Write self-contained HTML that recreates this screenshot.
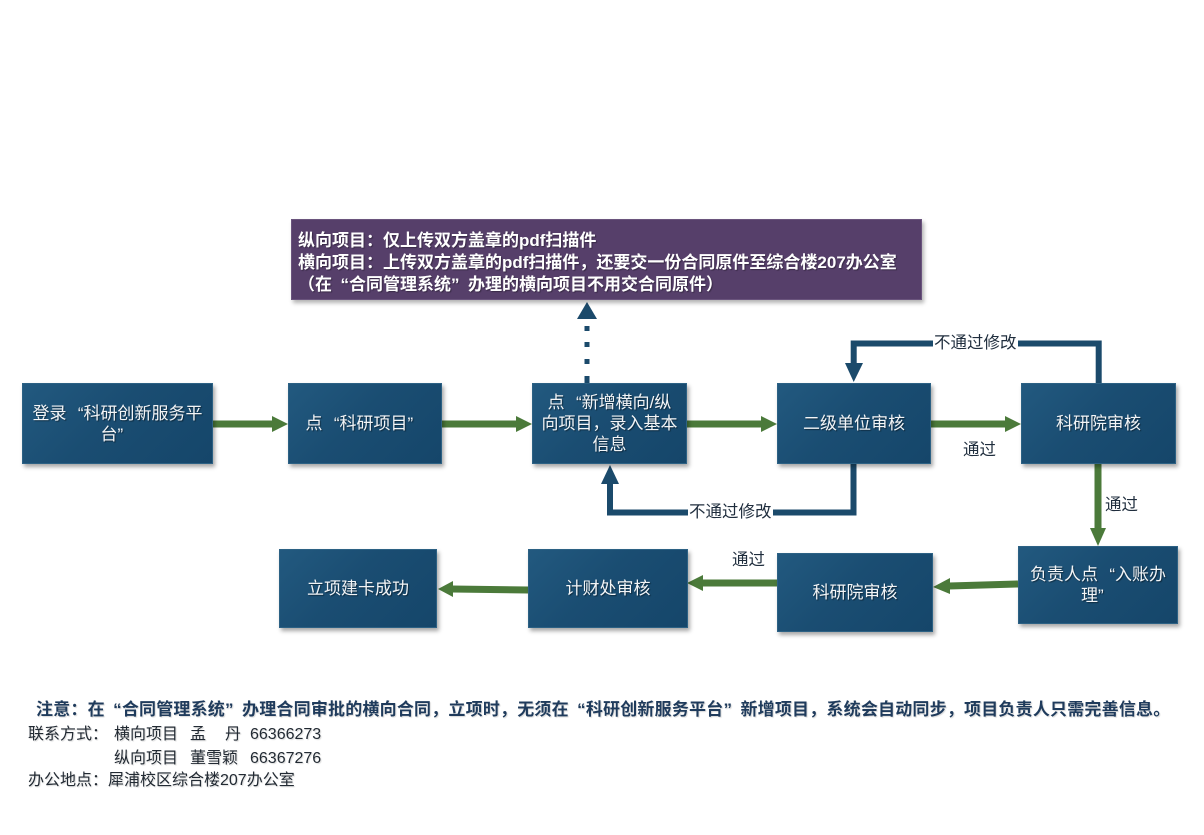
<!DOCTYPE html>
<html><head><meta charset="utf-8">
<style>
html,body{margin:0;padding:0;background:#fff;}
body{width:1204px;height:835px;position:relative;overflow:hidden;font-family:"Liberation Sans","Noto Sans CJK SC",sans-serif;}
.box{position:absolute;box-sizing:border-box;background:linear-gradient(135deg,#22597f 0%,#1a4d72 45%,#15466a 100%);border:1px solid #2c6184;box-shadow:2px 3px 4px rgba(0,0,0,0.35);display:flex;align-items:center;justify-content:center;text-align:center;color:#f3f5f7;font-size:17px;line-height:21px;text-shadow:1px 1px 1px rgba(0,0,0,0.45);}
.purple{position:absolute;left:291px;top:219px;width:631px;height:81px;box-sizing:border-box;background:#563f6a;border:1px solid #6a547d;box-shadow:2px 3px 4px rgba(0,0,0,0.3);color:#fff;font-weight:bold;font-size:17px;line-height:22px;padding:10px 0 0 6px;white-space:nowrap;text-shadow:1px 1px 1px rgba(0,0,0,0.35);}
.lbl{position:absolute;font-size:16.5px;color:#1f2d3d;line-height:20px;white-space:nowrap;}
.lblbg{background:#fff;padding:0 1px;}
.t{position:absolute;white-space:nowrap;font-size:16px;line-height:20px;color:#222a33;text-shadow:1px 1px 1px rgba(0,0,0,0.15);}
.ql{display:inline-block;width:1em;text-align:right;}
.qr{display:inline-block;width:1em;text-align:left;}
svg{position:absolute;left:0;top:0;}
</style></head>
<body>
<svg width="1204" height="835" viewBox="0 0 1204 835">
  <g fill="#4b7a3a" stroke="none">
    <rect x="213" y="420.5" width="60" height="7"/>
    <polygon points="272,416 272,432 288,424"/>
    <rect x="442" y="420.5" width="75" height="7"/>
    <polygon points="516,416 516,432 532,424"/>
    <rect x="687" y="420.5" width="75" height="7"/>
    <polygon points="761,416 761,432 777,424"/>
    <rect x="931" y="420.5" width="75" height="7"/>
    <polygon points="1005,416 1005,432 1021,424"/>
    <rect x="1094.5" y="464" width="7" height="65"/>
    <polygon points="1090,528 1106,528 1098,546"/>
  </g>
  <g stroke="#4b7a3a" stroke-width="7" fill="none">
    <line x1="1018" y1="584" x2="949" y2="586"/>
    <line x1="777" y1="583" x2="702" y2="583"/>
    <line x1="528" y1="590" x2="452" y2="589"/>
  </g>
  <g fill="#4b7a3a">
    <polygon points="950,578 950,594 933,587"/>
    <polygon points="703,575 703,591 687,583"/>
    <polygon points="453,581 453,597 438,589"/>
  </g>
  <g stroke="#1b4a6b" stroke-width="6" fill="none" stroke-linejoin="miter">
    <polyline points="853.5,464 853.5,512.5 610,512.5 610,484"/>
    <polyline points="1098.7,383 1098.7,343.5 853.7,343.5 853.7,364"/>
  </g>
  <g fill="#1b4a6b">
    <polygon points="601,484 619,484 610,465"/>
    <polygon points="845,363 863,363 853.7,382"/>
    <rect x="584.5" y="326" width="5" height="5"/>
    <rect x="584.5" y="342" width="5" height="5"/>
    <rect x="584.5" y="359" width="5" height="5"/>
    <rect x="584.5" y="376" width="5" height="7"/>
    <polygon points="577,319 597,319 587,302"/>
  </g>
</svg>

<div class="purple">纵向项目：仅上传双方盖章的pdf扫描件<br>横向项目：上传双方盖章的pdf扫描件，还要交一份合同原件至综合楼207办公室<br>（在<span class="ql">“</span>合同管理系统<span class="qr">”</span>办理的横向项目不用交合同原件）</div>

<div class="box" style="left:22px;top:383px;width:191px;height:81px;"><div>登录<span class="ql">“</span>科研创新服务平<br>台<span class="qr">”</span></div></div>
<div class="box" style="left:288px;top:383px;width:154px;height:81px;"><div>点<span class="ql">“</span>科研项目<span class="qr">”</span></div></div>
<div class="box" style="left:532px;top:383px;width:155px;height:81px;"><div>点<span class="ql">“</span>新增横向/纵<br>向项目，录入基本<br>信息</div></div>
<div class="box" style="left:777px;top:383px;width:154px;height:81px;">二级单位审核</div>
<div class="box" style="left:1021px;top:383px;width:155px;height:81px;">科研院审核</div>

<div class="box" style="left:1018px;top:546px;width:160px;height:78px;"><div>负责人点<span class="ql">“</span>入账办<br>理<span class="qr">”</span></div></div>
<div class="box" style="left:777px;top:553px;width:156px;height:79px;">科研院审核</div>
<div class="box" style="left:528px;top:549px;width:160px;height:79px;">计财处审核</div>
<div class="box" style="left:279px;top:549px;width:158px;height:79px;">立项建卡成功</div>

<div class="lbl" style="left:933px;top:333px;"><span class="lblbg">不通过修改</span></div>
<div class="lbl" style="left:688px;top:502px;"><span class="lblbg">不通过修改</span></div>
<div class="lbl" style="left:963px;top:440px;">通过</div>
<div class="lbl" style="left:1105px;top:495px;">通过</div>
<div class="lbl" style="left:732px;top:550px;">通过</div>

<div class="t" style="left:36px;top:700px;font-size:17px;font-weight:bold;color:#1f3b5c;letter-spacing:0.2px;">注意：在<span class="ql">“</span>合同管理系统<span class="qr">”</span>办理合同审批的横向合同，立项时，无须在<span class="ql">“</span>科研创新服务平台<span class="qr">”</span>新增项目，系统会自动同步，项目负责人只需完善信息。</div>
<div class="t" style="left:28px;top:725px;">联系方式：</div>
<div class="t" style="left:114px;top:725px;">横向项目</div>
<div class="t" style="left:190px;top:725px;">孟</div>
<div class="t" style="left:225px;top:725px;">丹</div>
<div class="t" style="left:250px;top:725px;">66366273</div>
<div class="t" style="left:114px;top:749px;">纵向项目</div>
<div class="t" style="left:190px;top:749px;">董雪颖</div>
<div class="t" style="left:250px;top:749px;">66367276</div>
<div class="t" style="left:28px;top:771px;">办公地点：犀浦校区综合楼207办公室</div>
</body></html>
